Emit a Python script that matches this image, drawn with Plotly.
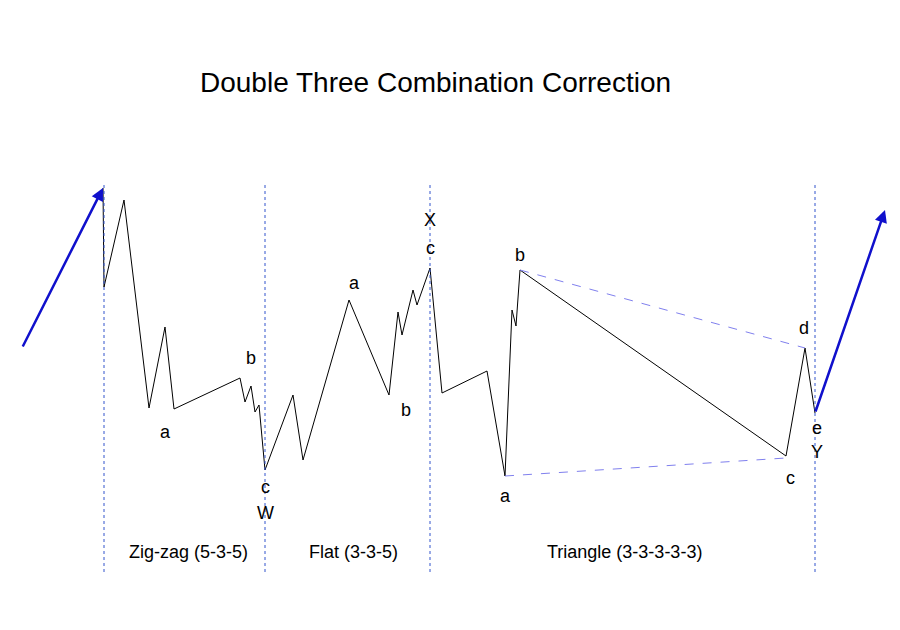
import plotly.graph_objects as go

wave_x = [103,104,124,149,165,174,240,245,251,255,259,265,293,303,349,389,398,402,413,417,430,442,487,505,512,516,520,786,805,815]
wave_y = [188,287,200,408,327,409,378,402,386,412,405,470,395,460,300,395,312,335,290,305,268,393,371,476,310,326,270,456,348,413]
tri_upper_x = [520,805]; tri_upper_y = [270,348]
tri_lower_x = [505,786]; tri_lower_y = [476,458]
vlines_x = [104,265,430,815]
arrows = [(22,348,103,188),(815,413,885,210)]
labels = [("a",165,432),("b",251,358),("c",265,487),("W",265,513),("a",354,283),("b",406,410),("c",430,248),("X",430,220),
          ("b",520,255),("a",505,496),("c",790,478),("d",804,328),("e",817,428),("Y",817,452),
          ("Zig-zag (5-3-5)",188,552),("Flat (3-3-5)",353,552),("Triangle (3-3-3-3-3)",624,552)]

fig = go.Figure()
fig.add_trace(go.Scatter(x=wave_x, y=wave_y, mode="lines", line=dict(color="black", width=1)))
for xs, ys in [(tri_upper_x, tri_upper_y), (tri_lower_x, tri_lower_y)]:
    fig.add_trace(go.Scatter(x=xs, y=ys, mode="lines", line=dict(color="#8080ee", width=1, dash="dash")))
for vx in vlines_x:
    fig.add_trace(go.Scatter(x=[vx, vx], y=[185, 575], mode="lines", line=dict(color="#3355cc", width=1, dash="dot")))
for x0, y0, x1, y1 in arrows:
    fig.add_annotation(x=x1, y=y1, ax=x0, ay=y0, xref="x", yref="y", axref="x", ayref="y",
                       showarrow=True, arrowhead=2, arrowsize=1, arrowwidth=2.5, arrowcolor="#1010cc", text="")
for t, x, y in labels:
    fig.add_annotation(x=x, y=y, text=t, showarrow=False, font=dict(size=18, color="black", family="Arial"))
fig.add_annotation(x=435, y=82, text="Double Three Combination Correction", showarrow=False,
                   font=dict(size=28, color="black", family="Arial"))
fig.update_layout(width=900, height=630, margin=dict(l=0, r=0, t=0, b=0), showlegend=False,
                  plot_bgcolor="white", paper_bgcolor="white",
                  xaxis=dict(range=[8, 908], visible=False),
                  yaxis=dict(range=[638, 8], visible=False))
fig.write_html("out.html")
